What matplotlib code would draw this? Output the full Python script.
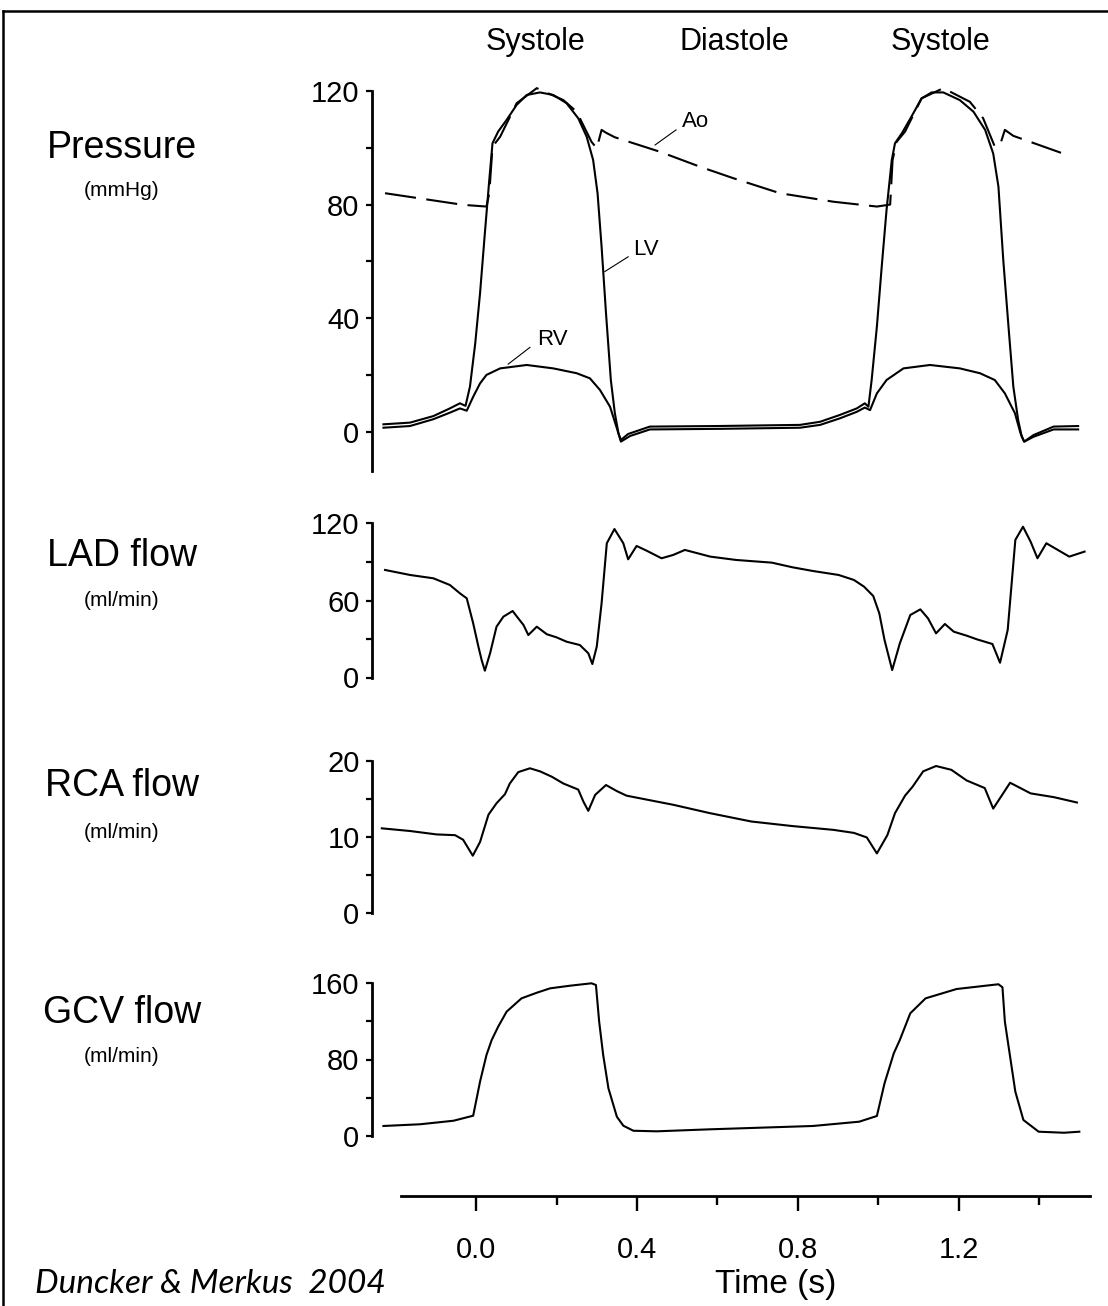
import matplotlib
matplotlib.use('Agg')
import matplotlib.pyplot as plt
from matplotlib.lines import Line2D

plt.rcParams['font.family'] = ['Liberation Sans', 'DejaVu Sans']

# ---- pressure traces (mmHg) vs time (s) ----
lv_t = [-0.230, -0.164, -0.106, -0.065, -0.040, -0.026, -0.015, -0.002, 0.010, 0.022,
        0.033, 0.041, 0.055, 0.076, 0.101, 0.126, 0.159, 0.192, 0.225, 0.254,
        0.275, 0.291, 0.302, 0.312, 0.323, 0.335, 0.345, 0.354, 0.360, 0.378,
        0.432, 0.600, 0.805, 0.855, 0.904, 0.946, 0.966, 0.975, 0.983, 0.996,
        1.008, 1.020, 1.033, 1.041, 1.058, 1.082, 1.107, 1.132, 1.161, 1.202,
        1.236, 1.265, 1.285, 1.298, 1.310, 1.323, 1.335, 1.347, 1.356, 1.362,
        1.385, 1.435, 1.496]
lv_p = [2.6, 3.2, 5.5, 8.2, 10.0, 9.1, 15.9, 31.0, 48.7, 69.9,
        88.7, 101.6, 105.7, 109.8, 115.1, 118.6, 119.5, 118.6, 115.7, 110.4,
        103.9, 95.7, 84.0, 65.2, 41.7, 18.2, 6.5, -0.6, -2.9, -0.8,
        1.8, 2.0, 2.4, 3.5, 5.9, 8.2, 10.0, 8.8, 18.2, 37.0,
        58.1, 78.1, 95.7, 101.6, 105.1, 111.0, 117.4, 119.5, 119.5, 116.8,
        112.7, 106.3, 98.0, 86.3, 60.5, 37.0, 15.9, 4.1, -1.8, -3.5,
        -1.2, 1.8, 2.0]

rv_t = [-0.230, -0.164, -0.106, -0.065, -0.040, -0.023, -0.007, 0.010, 0.026, 0.060,
        0.126, 0.192, 0.250, 0.283, 0.308, 0.333, 0.350, 0.360, 0.383, 0.432,
        0.600, 0.805, 0.855, 0.904, 0.946, 0.966, 0.979, 0.996, 1.020, 1.062,
        1.128, 1.202, 1.252, 1.289, 1.314, 1.339, 1.353, 1.362, 1.385, 1.435,
        1.496]
rv_p = [1.4, 2.0, 4.4, 6.7, 8.2, 7.4, 12.3, 17.0, 20.0, 22.3,
        23.5, 22.3, 20.6, 18.8, 14.7, 8.8, 1.2, -3.5, -1.5, 0.8,
        1.0, 1.4, 2.4, 4.7, 7.0, 8.5, 7.6, 13.5, 18.2, 22.3,
        23.5, 22.3, 20.6, 18.2, 13.5, 6.5, -0.6, -3.5, -1.8, 0.8,
        0.8]

ao_t = [-0.226, -0.032, 0.026, 0.033, 0.041, 0.060, 0.101, 0.151, 0.217, 0.250,
        0.287, 0.300, 0.312, 0.323, 0.345, 0.457, 0.557, 0.639, 0.755, 0.888,
        0.996, 1.029, 1.035, 1.045, 1.066, 1.107, 1.161, 1.227, 1.260, 1.289,
        1.302, 1.314, 1.335, 1.468]
ao_p = [84.0, 79.9, 79.3, 84.0, 100.4, 103.9, 115.7, 121.0, 116.8, 112.7,
        102.1, 99.8, 106.3, 105.3, 103.7, 98.6, 93.3, 89.3, 84.0, 81.0,
        79.3, 80.0, 95.7, 102.1, 105.7, 117.4, 121.0, 116.2, 110.4, 100.4,
        101.0, 106.3, 104.2, 97.5]

# ---- coronary flows (ml/min) ----
lad_t = [-0.226, -0.164, -0.106, -0.065, -0.040, -0.023, -0.007, 0.006, 0.014, 0.022,
         0.035, 0.051, 0.068, 0.091, 0.105, 0.118, 0.130, 0.151, 0.176, 0.200,
         0.225, 0.258, 0.279, 0.289, 0.300, 0.312, 0.325, 0.344, 0.366, 0.378,
         0.399, 0.424, 0.461, 0.490, 0.519, 0.582, 0.646, 0.735, 0.786, 0.837,
         0.901, 0.939, 0.964, 0.987, 1.002, 1.015, 1.034, 1.053, 1.079, 1.104,
         1.123, 1.143, 1.165, 1.187, 1.219, 1.244, 1.283, 1.302, 1.321, 1.340,
         1.359, 1.378, 1.395, 1.417, 1.474, 1.512]
lad_q = [83.8, 79.9, 77.3, 72.1, 65.6, 61.7, 42.2, 24.0, 13.6, 5.3,
         18.9, 39.6, 47.4, 51.8, 46.1, 40.9, 33.1, 39.6, 33.7, 31.3,
         27.9, 25.3, 18.9, 10.5, 24.0, 57.8, 104.6, 115.7, 104.6, 92.1,
         102.5, 98.8, 92.9, 95.5, 99.4, 94.2, 91.6, 89.5, 85.9, 83.0,
         79.9, 76.0, 70.8, 63.5, 50.0, 29.2, 5.8, 26.6, 48.7, 53.1,
         46.1, 34.4, 41.7, 35.7, 32.6, 29.8, 26.1, 11.5, 37.0, 107.2,
         117.5, 105.8, 92.9, 104.6, 94.2, 98.1]

rca_t = [-0.234, -0.164, -0.098, -0.052, -0.032, -0.008, 0.010, 0.031, 0.051, 0.072,
         0.084, 0.105, 0.134, 0.159, 0.188, 0.217, 0.254, 0.267, 0.279, 0.296,
         0.323, 0.350, 0.374, 0.432, 0.490, 0.581, 0.684, 0.786, 0.888, 0.939,
         0.971, 0.996, 1.022, 1.041, 1.066, 1.085, 1.111, 1.143, 1.181, 1.219,
         1.264, 1.285, 1.327, 1.378, 1.436, 1.493]
rca_q = [11.1, 10.75, 10.3, 10.2, 9.6, 7.5, 9.3, 12.9, 14.4, 15.6,
         17.0, 18.5, 19.0, 18.6, 17.9, 17.0, 16.2, 14.6, 13.4, 15.5,
         16.8, 16.0, 15.4, 14.8, 14.2, 13.1, 12.0, 11.4, 10.9, 10.5,
         9.9, 7.8, 10.2, 13.1, 15.4, 16.6, 18.6, 19.3, 18.8, 17.4,
         16.4, 13.7, 17.1, 15.7, 15.2, 14.5]

gcv_t = [-0.230, -0.139, -0.056, -0.007, 0.010, 0.026, 0.039, 0.055, 0.076, 0.113,
         0.151, 0.184, 0.234, 0.287, 0.298, 0.306, 0.316, 0.329, 0.350, 0.366,
         0.391, 0.449, 0.581, 0.837, 0.952, 0.996, 1.015, 1.038, 1.053, 1.079,
         1.117, 1.194, 1.244, 1.298, 1.308, 1.314, 1.340, 1.360, 1.398, 1.461,
         1.499]
gcv_q = [10.2, 12.0, 15.7, 21.0, 56.7, 84.7, 100.5, 114.4, 130.2, 144.2,
         150.1, 154.7, 157.5, 160.0, 158.2, 119.7, 84.7, 49.8, 19.9, 10.5,
         5.2, 4.6, 6.7, 10.2, 14.7, 20.7, 55.0, 86.5, 100.5, 128.5,
         144.2, 154.0, 156.4, 159.0, 155.8, 119.7, 46.2, 16.5, 4.2, 3.1,
         4.2]

phases = ['Systole', 'Diastole', 'Systole']
time_ticks = [0.0, 0.4, 0.8, 1.2]
time_minor = [0.2, 0.6, 1.0, 1.4]

W, H = 1108, 1306
X_AXIS, X_RIGHT = 372, 1090          # pixel columns of the y spines / right edge
T_LO, T_HI = -0.2584, 1.5255         # time range across those columns

fig = plt.figure(figsize=(W / 100, H / 100), dpi=100)


def fx(x):
    return x / W


def fy(y):
    return 1 - y / H


def panel(v_hi, y_hi, v_lo, y_lo, ylim):
    """axes placed so that v_hi sits on pixel row y_hi and v_lo on y_lo"""
    s = (y_lo - y_hi) / (v_hi - v_lo)
    top = y_hi - (ylim[1] - v_hi) * s
    bot = y_lo + (v_lo - ylim[0]) * s
    ax = fig.add_axes([fx(X_AXIS), fy(bot), (X_RIGHT - X_AXIS) / W, (bot - top) / H])
    ax.set_xlim(T_LO, T_HI)
    ax.set_ylim(*ylim)
    for sp in ['top', 'right', 'bottom']:
        ax.spines[sp].set_visible(False)
    ax.spines['left'].set_linewidth(2.0)
    ax.set_xticks([])
    ax.tick_params(axis='y', which='both', direction='out', length=4, width=1.6,
                   pad=5, labelsize=21)
    ax.patch.set_visible(False)
    return ax


def side_label(y, name, unit, dy=44):
    fig.text(fx(122), fy(y), name, ha='center', va='center', fontsize=27)
    fig.text(fx(122), fy(y + dy), unit, ha='center', va='center', fontsize=15)


lw = 1.5

# pressure
axp = panel(120, 91.0, 0, 431.7, (-16, 125))
axp.spines['left'].set_bounds(-14, 120)
axp.set_yticks([0, 40, 80, 120])
axp.set_yticks([20, 60, 100], minor=True)
axp.plot(lv_t, lv_p, color='k', lw=lw)
axp.plot(rv_t, rv_p, color='k', lw=lw)
axp.plot(ao_t, ao_p, color='k', lw=lw, dashes=(15, 5))
axp.plot([0.445, 0.497], [101.0, 106.3], color='k', lw=0.8)
axp.text(0.512, 109.1, 'Ao', ha='left', va='center', fontsize=16)
axp.plot([0.320, 0.378], [56.4, 61.6], color='k', lw=0.8)
axp.text(0.390, 64.0, 'LV', ha='left', va='center', fontsize=16)
axp.plot([0.080, 0.134], [23.8, 29.7], color='k', lw=0.8)
axp.text(0.151, 32.3, 'RV', ha='left', va='center', fontsize=16)

# LAD
axl = panel(120, 523.5, 0, 677.5, (-6, 126))
axl.spines['left'].set_bounds(0, 120)
axl.set_yticks([0, 60, 120])
axl.set_yticks([30, 90], minor=True)
axl.plot(lad_t, lad_q, color='k', lw=lw)

# RCA
axr = panel(20, 760.7, 0, 912.7, (-1, 21))
axr.spines['left'].set_bounds(0, 20)
axr.set_yticks([0, 10, 20])
axr.set_yticks([5, 15], minor=True)
axr.plot(rca_t, rca_q, color='k', lw=lw)

# GCV
axg = panel(160, 983.3, 0, 1135.7, (-8, 168))
axg.spines['left'].set_bounds(0, 160)
axg.set_yticks([0, 80, 160])
axg.set_yticks([40, 120], minor=True)
axg.plot(gcv_t, gcv_q, color='k', lw=lw)

# shared time axis drawn on its own below the panels
axt = fig.add_axes([fx(X_AXIS), fy(1196), (X_RIGHT - X_AXIS) / W, 10 / H])
axt.set_xlim(T_LO, T_HI)
axt.set_yticks([])
for sp in ['top', 'right', 'left']:
    axt.spines[sp].set_visible(False)
axt.spines['bottom'].set_linewidth(2.0)
axt.spines['bottom'].set_bounds(-0.186, T_HI)
axt.set_xticks(time_ticks)
axt.set_xticklabels(['%.1f' % v for v in time_ticks])
axt.set_xticks(time_minor, minor=True)
axt.tick_params(axis='x', which='major', direction='out', length=11, width=1.7,
                pad=18, labelsize=21)
axt.tick_params(axis='x', which='minor', direction='out', length=6.5, width=1.7)
axt.patch.set_visible(False)

fig.text(fx(776), fy(1285), 'Time (s)', ha='center', va='center', fontsize=24)

# phase headers above the pressure trace
for name, xc in zip(phases, [535, 734, 940]):
    fig.text(fx(xc), fy(42), name, ha='center', va='center', fontsize=22)

side_label(148, 'Pressure', '(mmHg)', dy=42)
side_label(556, 'LAD flow', '(ml/min)')
side_label(786, 'RCA flow', '(ml/min)', dy=47)
side_label(1013, 'GCV flow', '(ml/min)')

fig.text(fx(35), fy(1284), 'Duncker & Merkus  2004', ha='left', va='center',
         fontsize=24, style='italic', family=['Lato', 'DejaVu Sans'])

# frame around the figure (left and top edges)
fig.add_artist(Line2D([fx(3), fx(3)], [fy(11), 0], color='k', lw=1.8))
fig.add_artist(Line2D([fx(3), 1], [fy(11), fy(11)], color='k', lw=1.8))

plt.savefig('out.png', dpi=100)
